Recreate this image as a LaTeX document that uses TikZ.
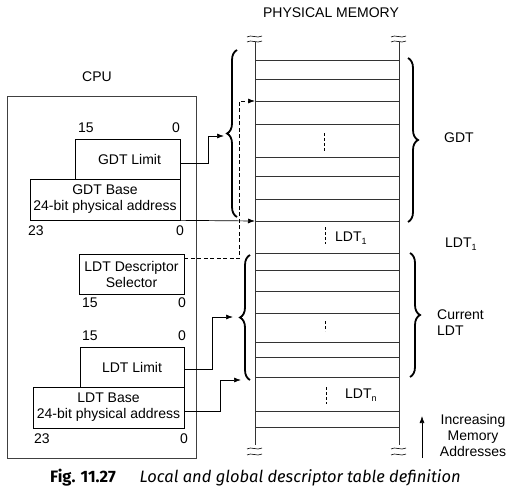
\documentclass[tikz,border=0pt]{standalone}
\usepackage{fontspec}
\setmainfont{Liberation Sans}
\newfontfamily\capfont{Fira Sans}
\usetikzlibrary{arrows.meta,decorations.pathreplacing,calc}
\begin{document}
\begin{tikzpicture}[x=1pt,y=-1pt,
  every node/.style={font=\fontsize{14}{16}\selectfont, inner sep=0pt},
  regbox/.style={draw, line width=0.7pt, align=center},
  lbl/.style={font=\fontsize{14}{16}\selectfont},
  memline/.style={line width=0.6pt, draw=black!80},
  conn/.style={line width=0.7pt, -{Latex[length=7pt,width=5pt]}},
  dconn/.style={line width=0.7pt, dash pattern=on 4pt off 2.5pt, -{Latex[length=7pt,width=5pt]}},
  bigbrace/.style={decorate, decoration={brace, amplitude=10pt}, line width=1.8pt},
  dotsdash/.style={line width=0.8pt, dash pattern=on 3pt off 2pt},
  wave/.style={line width=0.6pt}]
\useasboundingbox (0,0) rectangle (516,492);

% titles
\node[lbl] (cpu) at (97,77) {CPU};
\node[lbl] (pm) at (331,13) {PHYSICAL MEMORY};

% CPU box
\node[draw, line width=0.6pt, draw=black!75, minimum width=189pt, minimum height=362pt] (cpubox) at (101.5,277) {};

% registers
\node[regbox, minimum width=105pt, minimum height=40pt] (gdtlimit) at (127.5,159) {\hspace*{4pt}GDT Limit};
\node[regbox, minimum width=150pt, minimum height=41pt, fill=white] (gdtbase) at (105,199.5) {GDT Base\\24-bit physical address};
\node[regbox, minimum width=105pt, minimum height=40pt] (ldtsel) at (131.5,274) {LDT Descriptor\\Selector};
\node[regbox, minimum width=104pt, minimum height=40pt] (ldtlimit) at (132,367) {LDT Limit};
\node[regbox, minimum width=151pt, minimum height=41pt, fill=white] (ldtbase) at (108.5,407.5) {LDT Base\\24-bit physical address};

% bit labels
\node[lbl] (g15) at (86,128) {15};
\node[lbl] (g0) at (176,128) {0};
\node[lbl] (b23) at (36,231) {23};
\node[lbl] (b0) at (180,231) {0};
\node[lbl] (s15) at (90,303) {15};
\node[lbl] (s0) at (182,303) {0};
\node[lbl] (l15) at (90,336) {15};
\node[lbl] (l0) at (182,336) {0};
\node[lbl] (lb23) at (42,439) {23};
\node[lbl] (lb0) at (184,439) {0};

% memory
\coordinate (mtl) at (255,42);
\coordinate (mtr) at (399,42);
\coordinate (mbl) at (255,445);
\coordinate (mbr) at (399,445);
\draw[memline] (mtl) -- (mbl);
\draw[memline] (mtr) -- (mbr);
\foreach \i/\y in {1/60,2/79,3/101,4/124,5/157,6/176,7/199,8/221,9/253,10/270,11/291,12/313,13/342,14/357,15/377,16/411,17/427}{
  \coordinate (r\i) at (255,\y);
  \coordinate (q\i) at (399,\y);
  \draw[memline] (r\i) -- (q\i);
}
% wavy break marks
\foreach \x/\n in {255/a,399/b}{
  \draw[wave] (\x-8,37) .. controls (\x-4,34) and (\x+2,39) .. (\x+7,36);
  \draw[wave] (\x-8,42) .. controls (\x-4,39) and (\x+2,44) .. (\x+7,41);
  \draw[wave] (\x-8,449) .. controls (\x-4,446) and (\x+2,451) .. (\x+7,448);
  \draw[wave] (\x-8,455) .. controls (\x-4,452) and (\x+2,457) .. (\x+7,454);
}

% dashes inside memory
\coordinate (d1a) at (324,133); \coordinate (d1b) at (324,151);
\draw[dotsdash] (d1a) -- (d1b);
\coordinate (d2a) at (325,227); \coordinate (d2b) at (325,244);
\draw[dotsdash] (d2a) -- (d2b);
\coordinate (d3a) at (325,321); \coordinate (d3b) at (325,331);
\draw[dotsdash] (d3a) -- (d3b);
\coordinate (d4a) at (326,387); \coordinate (d4b) at (326,404);
\draw[dotsdash] (d4a) -- (d4b);
\node[lbl, anchor=west] (ldt1in) at (335,238) {LDT\raisebox{-0.35ex}{\fontsize{9}{10}\selectfont 1}};
\node[lbl, anchor=west] (ldtnin) at (345,395) {LDT\raisebox{-0.35ex}{\fontsize{9}{10}\selectfont n}};

% braces
\coordinate (gbl1) at (237,217); \coordinate (gbl2) at (237,50);
\draw[bigbrace] (gbl1) -- (gbl2);
\coordinate (gbr1) at (408,58); \coordinate (gbr2) at (408,222);
\draw[bigbrace] (gbr1) -- (gbr2);
\coordinate (lbl1) at (250,380); \coordinate (lbl2) at (250,255);
\draw[bigbrace] (lbl1) -- (lbl2);
\coordinate (lbr1) at (410,253); \coordinate (lbr2) at (410,377);
\draw[bigbrace] (lbr1) -- (lbr2);

% right labels
\node[lbl] (gdt) at (459,138) {GDT};
\node[lbl, anchor=west] (ldt1) at (445,244) {LDT\raisebox{-0.35ex}{\fontsize{9}{10}\selectfont 1}};
\node[lbl, align=left, anchor=west] (cur) at (437,323) {Current\\LDT};
\node[lbl, align=center] (inc) at (473,435) {Increasing\\Memory\\Addresses};
\coordinate (inca) at (422,458);
\coordinate (incb) at (422,416);
\draw[conn] (inca) -- (incb);

% connectors
\coordinate (gtip) at (224,136);
\draw[conn] ($(gdtlimit.east)+(0,4)$) -- ++(28,0) |- (gtip);
\draw[conn] (gdtbase.south east) -- (r8);
\draw[dconn] ($(ldtsel.north east)+(0,5)$) -- ++(55,0) |- (r3);
\coordinate (ltip) at (233,317);
\draw[conn] ($(ldtlimit.east)+(0,2)$) -- ++(28,0) |- (ltip);
\coordinate (btip) at (241,380);
\draw[conn] ($(ldtbase.east)+(0,4)$) -- ++(36,0) |- (btip);

% caption
\node[anchor=west, font=\capfont\fontsize{16.5}{18}\selectfont] (cap) at (50,478) {\textbf{Fig. 11.27}\hspace{24pt}\textit{Local and global descriptor table definition}};
\end{tikzpicture}
\end{document}
